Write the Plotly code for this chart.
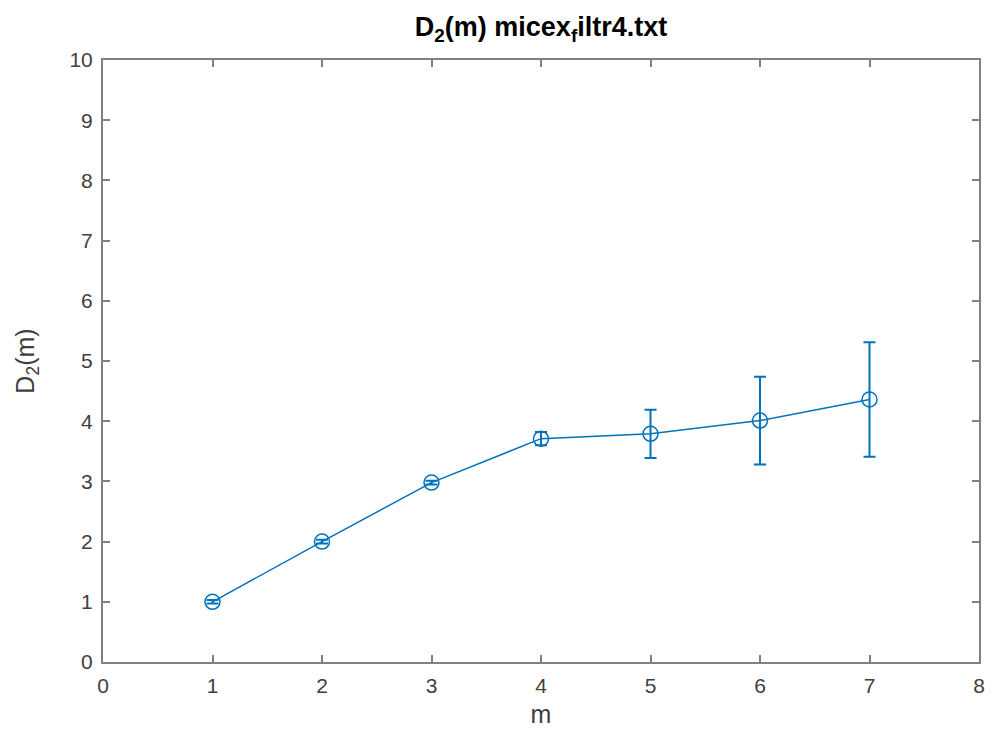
import plotly.graph_objects as go

m = [1, 2, 3, 4, 5, 6, 7]
d2 = [1.00, 2.00, 2.98, 3.71, 3.79, 4.01, 4.36]
err = [0.03, 0.03, 0.03, 0.11, 0.40, 0.73, 0.95]

x_ticks = list(range(0, 9))
y_ticks = list(range(0, 11))

blue = "#0072BD"
text_col = "#404040"
axis_col = "#808080"

font_family = "Liberation Sans, Arial, sans-serif"

fig = go.Figure()
fig.add_trace(go.Scatter(
    x=m, y=d2,
    mode="lines+markers",
    line=dict(color=blue, width=1.5),
    marker=dict(symbol="circle-open", size=15, color=blue, line=dict(width=1.5, color=blue)),
    error_y=dict(type="data", array=err, visible=True, color=blue, thickness=2, width=6),
    showlegend=False,
))

axis_common = dict(
    ticks="inside", ticklen=7, tickwidth=1.5, tickcolor=axis_col,
    showline=True, linecolor=axis_col, linewidth=2, mirror="ticks",
    showgrid=False, zeroline=False, automargin=False,
    tickfont=dict(family=font_family, size=21, color=text_col),
)

fig.update_layout(
    width=992, height=729,
    margin=dict(l=103, r=13, t=60, b=67),
    paper_bgcolor="white", plot_bgcolor="white",
    font=dict(family=font_family, color=text_col, size=21),
    title=dict(text="<b>D<sub>2</sub>(m) micex<sub>f</sub>iltr4.txt</b>",
               x=0.5, xref="paper", xanchor="center",
               y=0.976, yref="container", yanchor="top",
               font=dict(family=font_family, size=27, color="black")),
    xaxis=dict(range=[0, 8], tickvals=x_ticks, ticklabelstandoff=4,
               title=dict(text="m", font=dict(family=font_family, size=25, color=text_col), standoff=9),
               **axis_common),
    yaxis=dict(range=[0, 10], tickvals=y_ticks, ticklabelstandoff=4,
               title=dict(text="D<sub>2</sub>(m)", font=dict(family=font_family, size=25, color=text_col), standoff=28),
               **axis_common),
)

fig.write_html("out.html")
